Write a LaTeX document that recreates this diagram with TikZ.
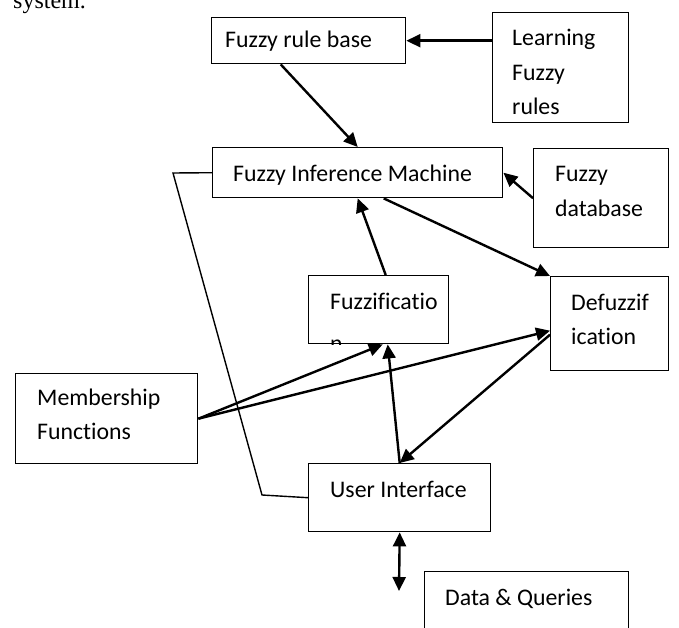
\documentclass[tikz,border=0pt]{standalone}
\usepackage{fontspec}
\setmainfont{Carlito}[Ligatures=NoCommon]
\newfontfamily\serifrm{Liberation Serif}
\usetikzlibrary{arrows.meta}
\tikzset{>={Triangle[length=14pt,width=13pt]}}
\tikzset{
  box/.style={draw, line width=1.4pt, anchor=north west, inner sep=0pt},
  boxtext/.style={anchor=base west, align=left, inner sep=0pt, font=\fontsize{23.8}{34.5}\selectfont},
  flow/.style={->, line width=2.4pt},
  wire/.style={line width=1.4pt},
}
\begin{document}
\begin{tikzpicture}[x=1pt, y=-1pt]
  \useasboundingbox (0,0) rectangle (679,628);
  \clip (0,0) rectangle (679,628);
  % caption fragment
  \node[anchor=base west, inner sep=0pt, font=\serifrm\fontsize{24}{28}\selectfont] (capt) at (13,9) {system.};
  % boxes
  \node[box, minimum width=194pt, minimum height=46pt] (rule) at (211,17) {};
  \node[box, minimum width=136pt, minimum height=110pt] (learn) at (492,12) {};
  \node[box, minimum width=290pt, minimum height=50pt] (fim) at (212,147) {};
  \node[box, minimum width=135pt, minimum height=99pt] (fuzzdb) at (533,148) {};
  \node[box, minimum width=140pt, minimum height=68pt] (fuzz) at (308,275) {};
  \node[box, minimum width=118pt, minimum height=94pt] (defuzz) at (550,276) {};
  \node[box, minimum width=182pt, minimum height=90pt] (member) at (15,373) {};
  \node[box, minimum width=182pt, minimum height=68pt] (ui) at (308,463) {};
  \node[box, minimum width=204pt, minimum height=70pt] (data) at (424,571) {};
  % texts
  \node[boxtext] (rulet) at (225,48) {Fuzzy rule base};
  \node[boxtext, text width=110pt] (learnt) at (512,46) {Learning\\Fuzzy\\rules};
  \node[boxtext] (fimt) at (233,182) {Fuzzy Inference Machine};
  \node[boxtext, text width=110pt] (fuzzdbt) at (555,182) {Fuzzy\\database};
  \node[boxtext] (fuzzt) at (330,309) {Fuzzificatio};
  \begin{scope}
    \clip (fuzz.north west) rectangle (fuzz.south east);
    \node[boxtext] (fuzzn) at (330,351) {n};
  \end{scope}
  \node[boxtext, text width=95pt] (defuzzt) at (571,310) {Defuzzif\\ication};
  \node[boxtext, text width=150pt] (membert) at (37,405) {Membership\\Functions};
  \node[boxtext] (uit) at (330,497) {User Interface};
  \node[boxtext] (datat) at (445,605) {Data \& Queries};
  % arrows
  \draw[flow] (learn.west |- rule.east) -- (rule.east);
  \draw[flow] ([xshift=-28pt]rule.south) -- (fim.north);
  \draw[flow] (fuzzdb.west) -- (fim.east);
  \draw[flow] ([xshift=26pt]fim.south) -- (defuzz.north west);
  \draw[flow] ([xshift=7pt]fuzz.north) -- (fim.south);
  \draw[flow] (member.east) -- ([xshift=4pt]fuzz.south);
  \draw[flow] (member.east) -- ([yshift=-7pt]defuzz.west);
  \draw[flow] (ui.north) -- ([xshift=9pt]fuzz.south);
  \draw[flow] ([yshift=-11pt]defuzz.west) -- (ui.north);
  % line to the interface
  \coordinate (bendtop) at (173,173);
  \coordinate (bendlow) at (262,495);
  \draw[wire] (fim.west) -- (bendtop) -- (bendlow) -- (ui.west);
  % queries
  \coordinate (qend) at (399,591);
  \draw[flow, <->] (ui.south) -- (qend);
\end{tikzpicture}
\end{document}
